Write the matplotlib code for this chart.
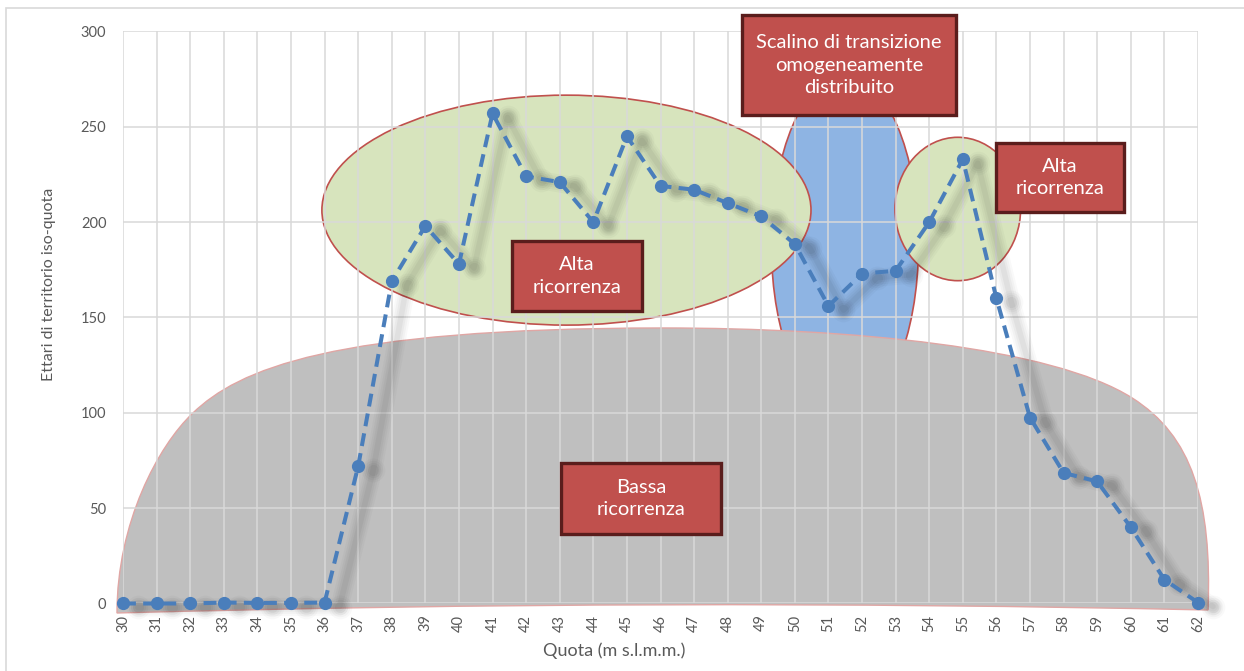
import numpy as np
import matplotlib
matplotlib.use('Agg')
import matplotlib.pyplot as plt
from matplotlib.patches import Ellipse, Rectangle, PathPatch
from matplotlib.path import Path
from matplotlib.transforms import offset_copy

# fonts: Lato is the closest to Calibri we have
plt.rcParams['font.family'] = ['Lato', 'DejaVu Sans']

# quota (m s.l.m.m.) and hectares of territory per iso-quota band
quota = [30, 31, 32, 33, 34, 35, 36, 37, 38, 39, 40, 41, 42, 43, 44, 45,
         46, 47, 48, 49, 50, 51, 52, 53, 54, 55, 56, 57, 58, 59, 60, 61, 62]
ettari = [0, 0, 0, 0.5, 0.3, 0.3, 0.5, 72, 169, 198, 178, 257, 224, 221,
          200, 245, 219, 217, 210, 203, 188.5, 156, 173, 174.5, 200, 233,
          160, 97.5, 68.5, 64, 40, 12.5, 0.5]
y_ticks = [0, 50, 100, 150, 200, 250, 300]

x_label = 'Quota (m s.l.m.m.)'
y_label = 'Ettari di territorio iso-quota'

# annotation labels
box_labels = ['Scalino di transizione\nomogeneamente\ndistribuito',
              'Alta\nricorrenza',
              'Alta\nricorrenza',
              'Bassa\nricorrenza']

# colours
LINE_BLUE = '#4a7ebb'
TEXT_GREY = '#595959'
GRID_GREY = '#d9d9d9'
BOX_RED = '#c0504d'
BOX_EDGE = '#5a1d1c'


def gray_region():
    '''outline of the big "bassa ricorrenza" blob, in data coords'''
    verts = [(29.82, -4.98),
             (29.82, 42.2), (31.04, 82.6), (32.08, 99.9),
             (33.42, 122.5), (36.16, 144.5), (46.07, 144.5),
             (51.64, 144.5), (57.65, 134.5), (60.04, 107.8),
             (61.82, 87.9), (62.42, 54.3), (62.30, -3.41),
             (46.07, 2.88), (29.82, -4.98),
             (29.82, -4.98)]
    codes = ([Path.MOVETO] + [Path.CURVE4] * 12 + [Path.CURVE3] * 2
             + [Path.CLOSEPOLY])
    return Path(verts, codes)


def draw_shapes(ax):
    '''background ellipses and blob'''
    blue = Ellipse((51.49, 188), 4.38, 178, fc='#8eb4e3', ec=BOX_RED,
                   lw=1.2, zorder=0.1, clip_on=False)
    gray = PathPatch(gray_region(), fc='#bfbfbf', ec='#e0a6a4',
                     lw=1.0, zorder=0.2, clip_on=False)
    green_big = Ellipse((43.20, 206.3), 14.56, 120.6, fc='#d7e4bd',
                        ec=BOX_RED, lw=1.2, zorder=0.3, clip_on=False)
    green_small = Ellipse((54.85, 206.9), 3.74, 75.2, fc='#d7e4bd',
                          ec=BOX_RED, lw=1.2, zorder=0.3, clip_on=False)
    for p in (blue, gray, green_big, green_small):
        ax.add_patch(p)


def draw_boxes(ax):
    '''red labelled boxes'''
    spots = [(48.43, 256.2, 6.37, 52.4),
             (55.99, 205.3, 3.81, 36.2),
             (41.58, 153.4, 3.87, 36.7),
             (43.04, 36.4, 4.76, 37.3)]
    for (x0, y0, w, h), label in zip(spots, box_labels):
        ax.add_patch(Rectangle((x0, y0), w, h, fc=BOX_RED, ec=BOX_EDGE,
                               lw=2.4, zorder=5, clip_on=False))
        ax.text(x0 + w / 2, y0 + h / 2, label, color='white', fontsize=14.5,
                ha='center', va='center', linespacing=1.4, zorder=6,
                clip_on=False)


def main():
    fig = plt.figure(figsize=(12.44, 6.71), dpi=100)
    ax = fig.add_axes([0.0989, 0.1006, 0.8641, 0.8525])
    ax.set_facecolor('none')

    draw_shapes(ax)

    # soft blurred shadow under the series
    shadow_tr = offset_copy(ax.transData, fig=fig, x=15, y=-4, units='dots')
    for lw, ms, a in [(13, 17, 0.022), (10, 14, 0.028), (7, 11, 0.033),
                      (4, 8, 0.038)]:
        ax.plot(quota, ettari, color='black', lw=lw, marker='o', ms=ms,
                mew=0, alpha=a, transform=shadow_tr, clip_on=False,
                zorder=1.5, solid_capstyle='round', solid_joinstyle='round')

    ax.plot(quota, ettari, color=LINE_BLUE, lw=2.9, ls=(0, (3.2, 1.8)),
            marker='o', ms=8.5, mfc=LINE_BLUE, mec=LINE_BLUE, zorder=3,
            clip_on=False)

    draw_boxes(ax)

    # axes
    ax.set_xlim(30, 62)
    ax.set_ylim(0, 300)
    ax.set_xticks(quota)
    ax.set_xticklabels([str(q) for q in quota], rotation=90)
    ax.set_yticks(y_ticks)
    ax.grid(True, color=GRID_GREY, linewidth=1.1)
    ax.set_axisbelow(True)
    for s in ax.spines.values():
        s.set_visible(False)
    ax.tick_params(length=0, colors=TEXT_GREY, labelsize=10.5)
    ax.tick_params(axis='x', pad=8)
    ax.tick_params(axis='y', pad=12)

    fig.text(614 / 1244, 1 - 651 / 671, x_label, color=TEXT_GREY,
             fontsize=13, ha='center', va='center')
    fig.text(49 / 1244, 1 - 284 / 671, y_label, color=TEXT_GREY,
             fontsize=11.5, ha='center', va='center', rotation=90)

    # chart area border (only top and left edges are in frame)
    fig.add_artist(Rectangle((6 / 1244, -0.1), 2, 1 - 8 / 671 + 0.1,
                             transform=fig.transFigure, fill=False,
                             ec=GRID_GREY, lw=1.2))

    fig.savefig('out.png', dpi=100)


if __name__ == '__main__':
    main()
